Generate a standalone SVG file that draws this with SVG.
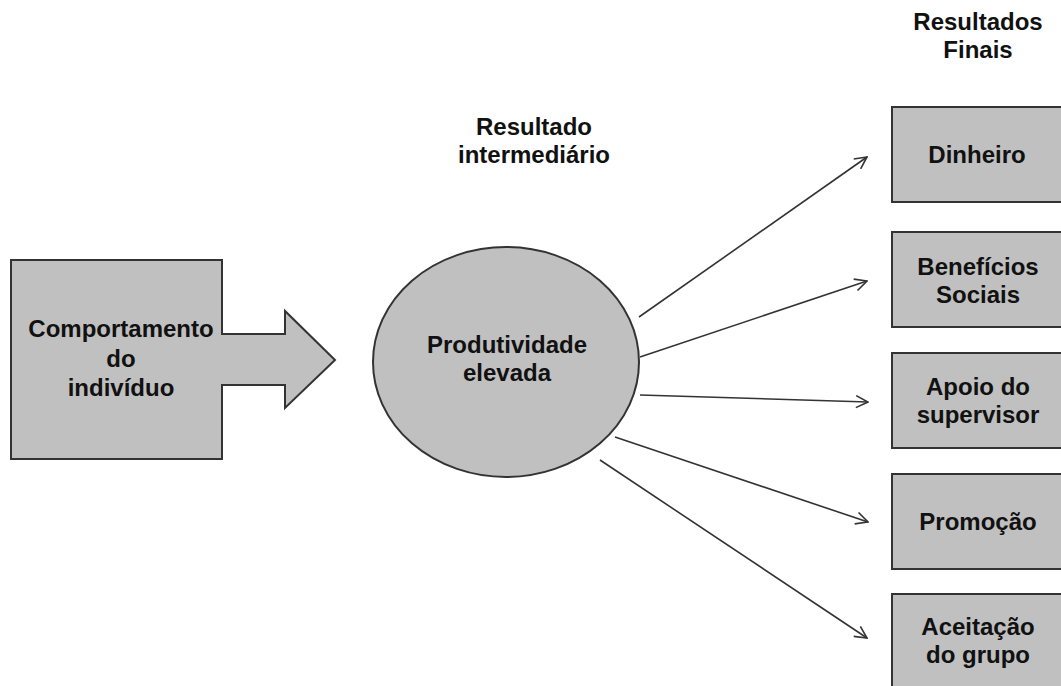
<svg xmlns="http://www.w3.org/2000/svg" width="1061" height="686" viewBox="0 0 1061 686">
<style>
.shape{fill:#c0c0c0;stroke:#333;stroke-width:2}
.t{font-family:"Liberation Sans",Arial,sans-serif;font-weight:bold;font-size:24px;fill:#111;text-anchor:middle}
.c{stroke:#333;stroke-width:1.6;fill:none;marker-end:url(#open)}
</style>
<defs>
<marker id="open" viewBox="0 0 14 14" refX="13" refY="7" markerWidth="14" markerHeight="14" markerUnits="userSpaceOnUse" orient="auto">
<polyline points="1,1 13,7 1,13" fill="none" stroke="#333" stroke-width="1.6"/>
</marker>
</defs>
<rect width="1061" height="686" fill="#fff"/>
<g id="comportamento">
<path class="shape" d="M11,260 H222 V334 H285 V311 L335,360 L285,408 V385 H222 V459 H11 Z"/>
<text class="t" x="121" y="337">Comportamento</text>
<text class="t" x="121" y="367">do</text>
<text class="t" x="121" y="396">indivíduo</text>
</g>
<g id="label-intermediario">
<text class="t" x="534" y="135">Resultado</text>
<text class="t" x="534" y="163">intermediário</text>
</g>
<g id="produtividade">
<ellipse class="shape" cx="506" cy="362" rx="133" ry="115"/>
<text class="t" x="507" y="353">Produtividade</text>
<text class="t" x="507" y="381">elevada</text>
</g>
<g id="label-finais">
<text class="t" x="978" y="30">Resultados</text>
<text class="t" x="978" y="58">Finais</text>
</g>
<g id="dinheiro">
<rect class="shape" x="892" y="107" width="172" height="95"/>
<text class="t" x="977" y="163">Dinheiro</text>
</g>
<g id="beneficios">
<rect class="shape" x="892" y="232" width="172" height="95"/>
<text class="t" x="978" y="275">Benefícios</text>
<text class="t" x="978" y="303">Sociais</text>
</g>
<g id="apoio">
<rect class="shape" x="892" y="353" width="172" height="95"/>
<text class="t" x="978" y="395">Apoio do</text>
<text class="t" x="978" y="423">supervisor</text>
</g>
<g id="promocao">
<rect class="shape" x="892" y="474" width="172" height="95"/>
<text class="t" x="978" y="530">Promoção</text>
</g>
<g id="aceitacao">
<rect class="shape" x="892" y="594" width="172" height="100"/>
<text class="t" x="978" y="635">Aceitação</text>
<text class="t" x="978" y="663">do grupo</text>
</g>
<g id="connectors">
<line class="c" x1="639" y1="317" x2="867" y2="157"/>
<line class="c" x1="640" y1="357" x2="867" y2="281"/>
<line class="c" x1="640" y1="395" x2="868" y2="402"/>
<line class="c" x1="615" y1="437" x2="868" y2="522"/>
<line class="c" x1="600" y1="460" x2="867" y2="638"/>
</g>
</svg>
